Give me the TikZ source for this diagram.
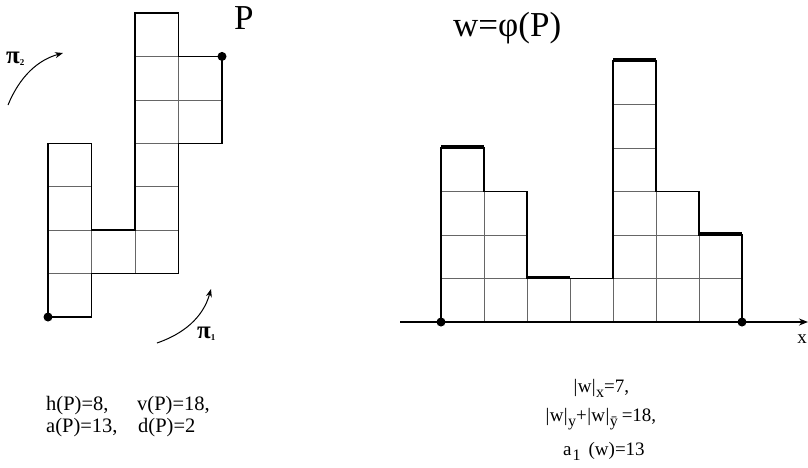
\documentclass[tikz,border=0pt]{standalone}
\usepackage{fontspec}
\setmainfont{Liberation Serif}
\usetikzlibrary{arrows.meta}
\newcommand{\vbr}{\kern0.4pt|\kern0.4pt}
\newcommand{\sbx}[1]{\raisebox{-5pt}{\fontsize{16}{18}\selectfont #1}}
\begin{document}
\begin{tikzpicture}[x=1pt,y=-1pt,
  outline/.style={line width=1.5pt,line join=miter},
  gridl/.style={line width=0.6pt,black!60},
  topbar/.style={line width=3.2pt},
  dotm/.style={circle,fill=black,inner sep=0pt,minimum size=9pt},
  txt/.style={font=\fontsize{20.5}{24}\selectfont,inner sep=0pt},
  rtxt/.style={font=\fontsize{19}{22}\selectfont,inner sep=0pt},
  bigtxt/.style={font=\fontsize{35}{40}\selectfont,inner sep=0pt},
  pil/.style={font=\bfseries\fontsize{25}{28}\selectfont,inner sep=0pt},
  curv/.style={line width=1pt,-{Stealth[length=8pt,width=6pt]}}]
\useasboundingbox (0,0) rectangle (808,467);
\fill[white] (0,0) rectangle (808,467);

% ---- left polyomino P ----
\begin{scope}[shift={(48,317)},x=43.5pt,y=43.43pt]
  \foreach \c/\r in {0/0,0/1,0/2,0/3,1/1,2/1,2/2,2/3,2/4,2/5,2/6,3/4,3/5}
    \draw[gridl] (\c,\r) rectangle ++(1,1);
  \draw[outline] (0,0) -- (0,4) -- (1,4) -- (1,2) -- (2,2) -- (2,7) -- (3,7)
     -- (3,6) -- (4,6) -- (4,4) -- (3,4) -- (3,1) -- (1,1) -- (1,0) -- cycle;
  \node[dotm] (ps) at (0,0) {};
  \node[dotm] (pe) at (4,6) {};
\end{scope}
\node[bigtxt,anchor=base west] (tP) at (234,29) {P};

% rotation arrows
\coordinate (a2s) at (8,105);
\coordinate (a2e) at (63,53);
\draw[curv] (a2s) .. controls (20,76) and (38,60) .. (a2e);
\node[pil,anchor=base west] (pi2) at (6,63) {π\raisebox{-2pt}{\fontsize{9}{10}\selectfont 2}};
\coordinate (a1s) at (157,343);
\coordinate (a1e) at (211,289);
\draw[curv] (a1s) .. controls (183,334) and (203,318) .. (a1e);
\node[pil,anchor=base west] (pi1) at (197,338) {π\raisebox{-2pt}{\fontsize{9}{10}\selectfont 1}};

% ---- right histogram w ----
\coordinate (axL) at (400,322);
\coordinate (axR) at (808,322);
\begin{scope}[shift={(441,322)},x=43pt,y=43.5pt]
  \foreach \c/\h in {0/4,1/3,2/1,3/1,4/6,5/3,6/2}
    \foreach \r in {1,...,\h}
      \draw[gridl] (\c,\r-1) rectangle ++(1,1);
  \draw[outline] (0,0) -- (0,4) -- (1,4) -- (1,3) -- (2,3) -- (2,1) -- (4,1)
     -- (4,6) -- (5,6) -- (5,3) -- (6,3) -- (6,2) -- (7,2) -- (7,0);
  \draw[topbar] (0,4.03) -- (1,4.03);
  \draw[topbar] (2,1.03) -- (3,1.03);
  \draw[topbar] (4,6.03) -- (5,6.03);
  \draw[topbar] (6,2.03) -- (7,2.03);
\end{scope}
\draw[line width=1.4pt,-{Stealth[length=9pt,width=7pt]}] (axL) -- (axR);
\node[dotm] (ws) at (441,322) {};
\node[dotm] (we) at (742,322) {};
\node[rtxt,anchor=base] (tx) at (802,343) {x};
\node[bigtxt,anchor=base west] (tw) at (453,36) {w=φ(P)};

% ---- bottom texts ----
\node[txt,anchor=base west] (h1) at (46,410) {h(P)=8,};
\node[txt,anchor=base west] (v1) at (137,410) {v(P)=18,};
\node[txt,anchor=base west] (a1) at (46,432) {a(P)=13,};
\node[txt,anchor=base west] (d1) at (138,432) {d(P)=2};

\node[rtxt,anchor=base west] (r1) at (573,392) {\vbr w\vbr\sbx{x}=7,};
\node[rtxt,anchor=base west] (r2) at (545,421) {\vbr w\vbr\sbx{y}+\vbr w\vbr\sbx{ȳ}\kern4pt=18,};
\node[rtxt,anchor=base west] (r3) at (563,455) {a\kern1pt\sbx{1}\kern8pt(w)=13};
\end{tikzpicture}
\end{document}
